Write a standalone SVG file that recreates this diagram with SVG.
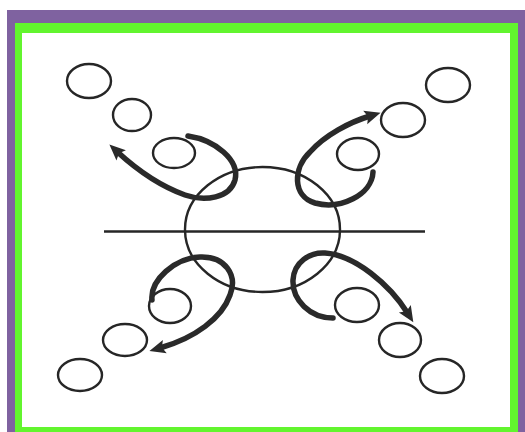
<svg xmlns="http://www.w3.org/2000/svg" width="525" height="432" viewBox="0 0 525 432">
<style>
.thin{fill:none;stroke:#262626;stroke-width:2.4}
.loop{fill:none;stroke:#2a2a2a;stroke-width:5.5;stroke-linecap:round}
</style>
<defs>
<marker id="ah" markerUnits="userSpaceOnUse" markerWidth="18" markerHeight="16" refX="5" refY="7" orient="auto" overflow="visible">
<path d="M0,0 L16,7 L0,14 L3,7 z" fill="#2a2a2a"/>
</marker>
</defs>
<rect width="525" height="432" fill="#ffffff"/>
<g id="frame">
<rect x="7" y="10" width="520" height="430" fill="#7f62a0"/>
<rect x="15" y="23" width="503" height="420" fill="#62f52e"/>
<rect x="22" y="33" width="488" height="394" fill="#ffffff"/>
</g>
<g id="center">
<ellipse class="thin" cx="262.5" cy="229.5" rx="77.5" ry="62.5"/>
</g>
<g id="axis">
<line class="thin" x1="104" y1="231.5" x2="425" y2="231.5" stroke="#2b2b3a"/>
</g>
<g id="tl-circles">
<ellipse class="thin" cx="89" cy="81" rx="22" ry="17"/>
<ellipse class="thin" cx="132" cy="115" rx="19" ry="16"/>
<ellipse class="thin" cx="174" cy="153" rx="21" ry="15"/>
</g>
<g id="tr-circles">
<ellipse class="thin" cx="448" cy="85" rx="22" ry="17"/>
<ellipse class="thin" cx="403" cy="120" rx="22" ry="17"/>
<ellipse class="thin" cx="358" cy="154" rx="21" ry="16"/>
</g>
<g id="bl-circles">
<ellipse class="thin" cx="170" cy="306" rx="21" ry="17"/>
<ellipse class="thin" cx="125" cy="340" rx="22" ry="16"/>
<ellipse class="thin" cx="80" cy="375" rx="22" ry="16"/>
</g>
<g id="br-circles">
<ellipse class="thin" cx="357" cy="305" rx="22" ry="17"/>
<ellipse class="thin" cx="400" cy="340" rx="21" ry="17"/>
<ellipse class="thin" cx="442" cy="376" rx="22" ry="17"/>
</g>
<g id="connectors">
<path class="loop" marker-end="url(#ah)" d="M188,136 C215,140 240,160 235,180 C230,198 205,202 185,195 C160,186 135,168 117.5,152"/>
<path class="loop" marker-end="url(#ah)" d="M373,172 C372,195 340,210 315,203 C292,196 293,168 310,152 C325,135 350,122 370,116"/>
<path class="loop" marker-end="url(#ah)" d="M152,300 C150,280 175,258 200,257 C225,256 238,275 230,295 C222,318 195,338 160,348"/>
<path class="loop" marker-end="url(#ah)" d="M333,318 C310,318 292,300 293,280 C294,262 310,252 325,253 C355,255 390,285 407.5,313"/>
</g>
</svg>
